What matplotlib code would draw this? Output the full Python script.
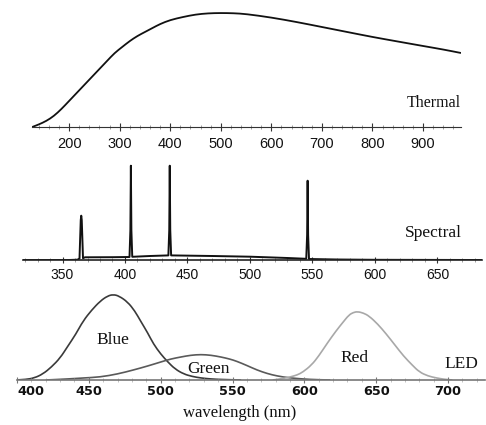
import matplotlib.pyplot as plt
from matplotlib.path import Path
from matplotlib.patches import PathPatch

# thermal (blackbody-like) curve
thermal_wl = [127, 140, 155, 170, 185, 200, 215, 230, 245, 260, 275, 290, 305, 320, 335,
              350, 365, 380, 400, 425, 450, 475, 500, 525, 550, 600, 650, 700, 750,
              800, 850, 900, 940, 975]
thermal_I = [0, 2.5, 6, 11, 18, 26, 34, 42, 50, 58, 66, 74, 80, 86, 91,
             95, 99, 103, 107, 110, 112.5, 113.7, 114, 113.8, 113, 109.5, 105, 100, 95,
             90, 85.5, 81, 77.5, 74]

# mercury lamp line spectrum
spec_wl = [318, 355, 362, 363.6, 364.6, 365.0, 365.4, 366.4, 368, 390, 403.6, 404.3, 404.7,
           405.1, 405.8, 420, 434.7, 435.4, 435.8, 436.2, 436.9, 470, 500, 530, 545.0,
           545.7, 546.1, 546.5, 547.2, 570, 600, 686]
spec_I = [0, 0, 0.3, 1.5, 40, 44.3, 40, 1.8, 2.7, 2.8, 3.0, 30, 94.3,
          30, 3.2, 4.0, 4.6, 30, 94.3, 30, 4.6, 4.0, 3.3, 2.0, 1.2,
          25, 79.3, 25, 1.0, 0.5, 0.2, 0]

# LED spectra
blue_wl = [398, 406, 412, 418, 424, 430, 435, 441, 446, 452, 458, 463, 467, 471, 477, 482,
           486, 491, 495, 500, 505, 510, 516, 522, 528, 535, 542, 556]
blue_I = [0, 0.5, 2, 6, 13, 22, 33, 46, 59, 70, 79, 84, 85.5, 84, 78, 69,
          59, 47, 36, 26, 18, 11, 6, 3.5, 2, 1, 0.5, 0]
green_wl = [420, 435, 446, 458, 470, 481, 491, 500, 507, 514, 521, 528, 535, 542, 548, 553,
            560, 567, 574, 581, 590, 604, 618]
green_I = [0, 1, 2, 3, 6, 10, 14, 18, 21, 23, 24.8, 25.5, 24.8, 23, 21, 18.7,
           14.5, 10, 6.5, 4, 2, 0.5, 0]
red_wl = [578, 585, 590, 595, 599, 605, 610, 616, 622, 627, 631, 634, 637, 641, 645, 651,
          657, 663, 669, 675, 680, 686, 692, 697, 703]
red_I = [0, 1.5, 3, 5, 8, 15, 24, 37, 49, 58, 65, 67.5, 68.4, 67, 64, 56,
         46, 35, 24, 15, 8, 4, 2, 0.8, 0]

W, H = 486, 425
fig = plt.figure(figsize=(W / 100, H / 100), dpi=100)


def make_axes(left, right, bottom, top):
    ax = fig.add_axes([left / W, 1 - bottom / H, (right - left) / W, (bottom - top) / H])
    for s in ['top', 'left', 'right']:
        ax.spines[s].set_visible(False)
    ax.set_yticks([])
    ax.patch.set_alpha(0)
    ax.tick_params(which='both', direction='inout')
    return ax


def curve(ax, x, y, **kw):
    # draw through the points with quadratic bezier segments (smooth look)
    pts = list(zip(x, y))
    verts = [pts[0]]
    codes = [Path.MOVETO]
    mid = lambda a, b: ((a[0] + b[0]) / 2, (a[1] + b[1]) / 2)
    verts.append(mid(pts[0], pts[1]))
    codes.append(Path.LINETO)
    for i in range(1, len(pts) - 1):
        verts += [pts[i], mid(pts[i], pts[i + 1])]
        codes += [Path.CURVE3, Path.CURVE3]
    verts.append(pts[-1])
    codes.append(Path.LINETO)
    ax.add_patch(PathPatch(Path(verts, codes), fill=False, **kw))


serif = 'Liberation Serif'

# --- thermal ---
ax1 = make_axes(32, 461, 127, 10)
curve(ax1, thermal_wl, thermal_I, edgecolor='#111111', lw=1.3)
ax1.set_xlim(126.7, 975)
ax1.set_ylim(0, 117)
ax1.set_xticks(range(200, 1000, 100))
ax1.set_xticks(range(140, 980, 20), minor=True)
ax1.tick_params(which='major', length=6, width=0.8, color='#333333', pad=4,
                labelsize=10.5, labelcolor='#111111')
ax1.tick_params(which='minor', length=3, width=0.5, color='#777777')
ax1.spines['bottom'].set_color('#333333')
for t in ax1.get_xticklabels():
    t.set_fontfamily('Liberation Sans')
ax1.text(974, 20.3, 'Thermal', ha='right', va='baseline', family=serif, fontsize=11.5, color='#111111')

# --- spectral ---
ax2 = make_axes(23, 482, 260, 160)
ax2.plot(spec_wl, spec_I, color='#111111', lw=1.4)
ax2.set_xlim(318.4, 685.6)
ax2.set_ylim(0, 100)
ax2.set_xticks(range(350, 700, 50))
ax2.set_xticks(range(320, 690, 10), minor=True)
ax2.tick_params(which='major', length=5, width=0.8, color='#333333', pad=3.5,
                labelsize=10, labelcolor='#111111')
ax2.tick_params(which='minor', length=3, width=0.5, color='#777777')
ax2.spines['bottom'].set_color('#222222')
ax2.spines['bottom'].set_linewidth(1.2)
for t in ax2.get_xticklabels():
    t.set_fontfamily('Liberation Sans')
ax2.text(669.6, 22.7, 'Spectral', ha='right', va='baseline', family=serif, fontsize=12.5, color='#111111')

# --- LED ---
ax3 = make_axes(17, 485, 380, 290)
curve(ax3, blue_wl, blue_I, edgecolor='#3a3a3a', lw=1.2)
curve(ax3, green_wl, green_I, edgecolor='#5a5a5a', lw=1.2)
curve(ax3, red_wl, red_I, edgecolor='#a8a8a8', lw=1.2)
ax3.set_xlim(400, 725.7)
ax3.set_ylim(0, 90)
ax3.set_xticks(range(400, 750, 50))
ax3.set_xticks(range(410, 730, 10), minor=True)
ax3.tick_params(which='major', length=4, width=0.8, color='#777777', pad=1.5,
                labelsize=9.3, labelcolor='#111111')
ax3.tick_params(which='minor', length=2.5, width=0.5, color='#aaaaaa')
ax3.spines['bottom'].set_color('#777777')
ax3.spines['bottom'].set_linewidth(1.2)
for t in ax3.get_xticklabels():
    t.set_fontfamily('DejaVu Sans')
    t.set_fontweight('bold')
ax3.get_xticklabels()[0].set_ha('left')
labels = [('Blue', 466.9, 35.7), ('Green', 533.6, 7.3), ('Red', 634.9, 18.3), ('LED', 709.5, 11.7)]
for s, x, y in labels:
    ax3.text(x, y, s, ha='center', va='baseline', family=serif, fontsize=12.5, color='#111111')

fig.text(240 / W, 1 - 417 / H, 'wavelength (nm)', ha='center', va='baseline',
         family=serif, fontsize=12, color='#111111')

fig.savefig('out.png', dpi=100)
